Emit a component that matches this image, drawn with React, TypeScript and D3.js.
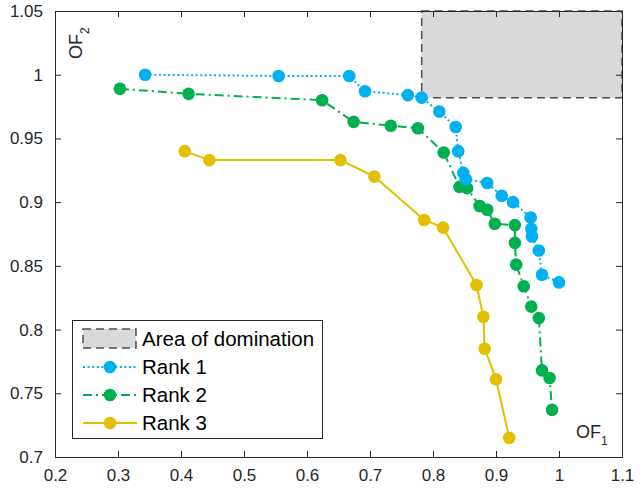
import React, { useEffect, useRef } from "react";
import * as d3 from "d3";

// Pareto fronts (OF1, OF2)
const rank1X = [0.343, 0.555, 0.667, 0.692, 0.760, 0.782, 0.810, 0.836, 0.840, 0.848, 0.852, 0.886, 0.909, 0.927, 0.955, 0.956, 0.957, 0.968, 0.973, 1.0];
const rank1Y = [1.0, 0.999, 0.999, 0.987, 0.984, 0.982, 0.971, 0.959, 0.940, 0.923, 0.918, 0.915, 0.905, 0.900, 0.888, 0.879, 0.873, 0.862, 0.843, 0.837];

const rank2X = [0.303, 0.412, 0.624, 0.674, 0.733, 0.776, 0.817, 0.842, 0.854, 0.874, 0.886, 0.898, 0.930, 0.930, 0.932, 0.944, 0.956, 0.968, 0.973, 0.985, 0.989];
const rank2Y = [0.989, 0.985, 0.980, 0.963, 0.960, 0.958, 0.939, 0.912, 0.911, 0.897, 0.894, 0.883, 0.882, 0.868, 0.851, 0.834, 0.818, 0.809, 0.768, 0.762, 0.737];

const rank3X = [0.406, 0.445, 0.653, 0.707, 0.786, 0.816, 0.869, 0.880, 0.882, 0.900, 0.921];
const rank3Y = [0.940, 0.933, 0.933, 0.920, 0.886, 0.880, 0.835, 0.810, 0.785, 0.761, 0.715];

// area dominated by the knee point
const domX = [0.782, 1.1];
const domY = [0.982, 1.05];

const xTicks = [0.2, 0.3, 0.4, 0.5, 0.6, 0.7, 0.8, 0.9, 1.0, 1.1];
const yTicks = [0.7, 0.75, 0.8, 0.85, 0.9, 0.95, 1.0, 1.05];

const seriesNames = ["Rank 1", "Rank 2", "Rank 3"];
const seriesColors = ["#00b0f0", "#00b050", "#e3bf00"];
const seriesDash = ["2 2.6", "9 4 2 4", null];

const FONT = "'Liberation Sans', Arial, Helvetica, sans-serif";
const AXIS = "#262626";

export default function App() {
  const ref = useRef<SVGSVGElement>(null);

  useEffect(() => {
    const svg = d3.select(ref.current);
    svg.selectAll("*").remove();

    const x = d3.scaleLinear().domain([0.2, 1.1]).range([55, 622]);
    const y = d3.scaleLinear().domain([0.7, 1.05]).range([457, 11]);

    // domination area
    svg.append("rect")
      .attr("x", x(domX[0])).attr("y", y(domY[1]))
      .attr("width", x(domX[1]) - x(domX[0]))
      .attr("height", y(domY[0]) - y(domY[1]))
      .attr("fill", "#d9d9d9")
      .attr("stroke", "#4d4d4d")
      .attr("stroke-width", 1.5)
      .attr("stroke-dasharray", "8 5");

    const allX = [rank1X, rank2X, rank3X];
    const allY = [rank1Y, rank2Y, rank3Y];

    const line = d3.line<[number, number]>().x(d => x(d[0])).y(d => y(d[1]));

    // draw rank 3 first so rank 1 sits on top
    [2, 1, 0].forEach(i => {
      const pts: [number, number][] = allX[i].map((v, j) => [v, allY[i][j]]);
      const g = svg.append("g");
      g.append("path")
        .attr("d", line(pts))
        .attr("fill", "none")
        .attr("stroke", seriesColors[i])
        .attr("stroke-width", 2)
        .attr("stroke-dasharray", seriesDash[i]);
      g.selectAll("circle").data(pts).join("circle")
        .attr("cx", d => x(d[0]))
        .attr("cy", d => y(d[1]))
        .attr("r", 6.3)
        .attr("fill", seriesColors[i]);
    });

    // axes box with inward ticks
    const fmt = (d: number) => String(+d.toFixed(2));
    const bottom = svg.append("g").attr("transform", `translate(0,457)`)
      .call(d3.axisBottom(x).tickValues(xTicks).tickSize(-6).tickPadding(12).tickFormat(d => fmt(+d)));
    const left = svg.append("g").attr("transform", `translate(55,0)`)
      .call(d3.axisLeft(y).tickValues(yTicks).tickSize(-6).tickPadding(12).tickFormat(d => fmt(+d)));
    const top = svg.append("g").attr("transform", `translate(0,11)`)
      .call(d3.axisTop(x).tickValues(xTicks).tickSize(-6).tickFormat(() => ""));
    const right = svg.append("g").attr("transform", `translate(622,0)`)
      .call(d3.axisRight(y).tickValues(yTicks).tickSize(-6).tickFormat(() => ""));
    [bottom, left, top, right].forEach(a => {
      a.selectAll("path").attr("stroke", AXIS).attr("stroke-width", 1);
      a.selectAll("line").attr("stroke", AXIS).attr("stroke-width", 1);
      a.selectAll("text").attr("fill", AXIS).style("font-family", FONT).style("font-size", "17px");
    });

    // axis titles
    const t1 = svg.append("text").attr("x", 576).attr("y", 438)
      .style("font-family", FONT).style("font-size", "18px").attr("fill", AXIS);
    t1.append("tspan").text("OF");
    t1.append("tspan").attr("dy", 7).style("font-size", "12px").text("1");

    const t2 = svg.append("text").attr("transform", "translate(82,59) rotate(-90)")
      .style("font-family", FONT).style("font-size", "18px").attr("fill", AXIS);
    t2.append("tspan").text("OF");
    t2.append("tspan").attr("dy", 7).style("font-size", "12px").text("2");

    // legend
    const lg = svg.append("g");
    lg.append("rect").attr("x", 72.5).attr("y", 320.5).attr("width", 250).attr("height", 118)
      .attr("fill", "white").attr("stroke", AXIS).attr("stroke-width", 1);
    const rowY = [339, 367, 395, 423];
    lg.append("rect").attr("x", 83).attr("y", 329).attr("width", 53).attr("height", 19)
      .attr("fill", "#d9d9d9").attr("stroke", "#4d4d4d").attr("stroke-width", 1.5)
      .attr("stroke-dasharray", "8 5");
    lg.append("text").attr("x", 142).attr("y", rowY[0]).attr("dy", "0.35em")
      .style("font-family", FONT).style("font-size", "20.5px").attr("fill", "#000").text("Area of domination");
    seriesNames.forEach((name, i) => {
      const yy = rowY[i + 1];
      lg.append("line").attr("x1", 83).attr("x2", 137).attr("y1", yy).attr("y2", yy)
        .attr("stroke", seriesColors[i]).attr("stroke-width", 2)
        .attr("stroke-dasharray", seriesDash[i]);
      lg.append("circle").attr("cx", 110).attr("cy", yy).attr("r", 6.3).attr("fill", seriesColors[i]);
      lg.append("text").attr("x", 142).attr("y", yy).attr("dy", "0.35em")
        .style("font-family", FONT).style("font-size", "20.5px").attr("fill", "#000").text(name);
    });
  }, []);

  return (
    <div style={{ position: "absolute", left: 0, top: 0 }}>
      <svg ref={ref} width={642} height={488} style={{ display: "block", background: "white" }} />
    </div>
  );
}
